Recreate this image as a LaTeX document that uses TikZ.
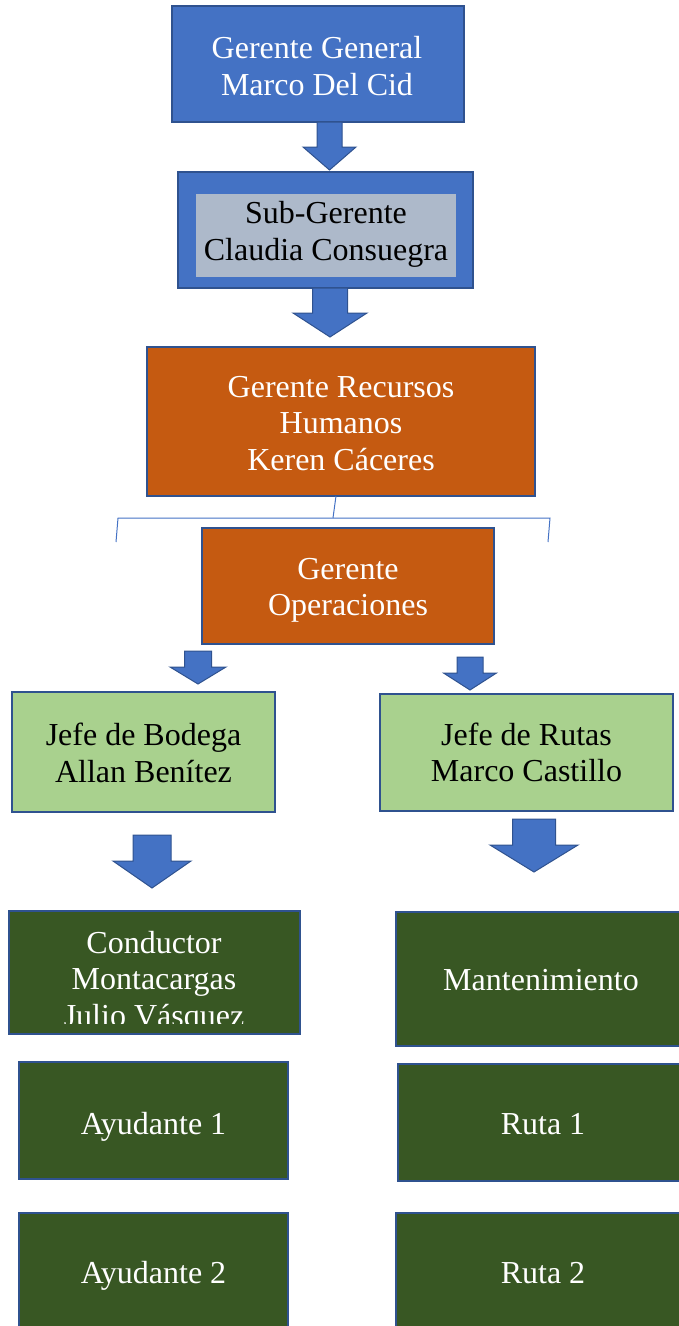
\documentclass[tikz,border=0pt]{standalone}
\usepackage{fontspec}
\setmainfont{Liberation Serif}
\usetikzlibrary{calc}
\definecolor{bfill}{HTML}{4472C4}
\definecolor{bord}{HTML}{2F528F}
\definecolor{greyb}{HTML}{ADB9CA}
\definecolor{orng}{HTML}{C55A11}
\definecolor{lgreen}{HTML}{A9D18E}
\definecolor{dgreen}{HTML}{385723}
\newcommand{\blockarr}[6]{%
  \draw[arrowst] ({#1-#3},#2) -- ({#1+#3},#2) -- ({#1+#3},#4) -- ({#1+#5},#4)
    -- (#1,#6) -- ({#1-#5},#4) -- ({#1-#3},#4) -- cycle;}
\begin{document}
\begin{tikzpicture}[x=1pt,y=-1pt,
  box/.style={draw=bord, line width=2pt, inner sep=0pt, outer sep=0pt},
  bluebox/.style={box, fill=bfill},
  orbox/.style={box, fill=orng},
  lgbox/.style={box, fill=lgreen},
  dgbox/.style={box, fill=dgreen},
  txt/.style={font=\fontsize{32}{36.5}\selectfont, align=center, inner sep=0pt},
  wtxt/.style={txt, text=white},
  ktxt/.style={txt, text=black},
  arrowst/.style={fill=bfill, draw=bord, line width=1pt, line join=miter},
  conn/.style={draw=bfill, line width=1pt}]
\useasboundingbox (0,0) rectangle (679,1326);
\clip (0,0) rectangle (679,1326);

% top
\node[bluebox, minimum width=292pt, minimum height=116pt] (gg) at (318,64) {};
\node[wtxt] (ggt) at ($(gg)+(-1,2)$) {Gerente General\\Marco Del Cid};
\node[box, fill=bfill, minimum width=295pt, minimum height=116pt] (sg) at (325.5,230) {};
\node[draw=none, fill=greyb, inner sep=0pt, minimum width=260pt, minimum height=83pt] (sgi) at (326,235.5) {};
\node[ktxt] (sgt) at ($(sgi)+(0,-1)$) {Sub-Gerente\\Claudia Consuegra};
\node[orbox, minimum width=388pt, minimum height=149pt] (rh) at (341,421.5) {};
\node[wtxt] (rht) at ($(rh)+(0,2)$) {Gerente Recursos\\Humanos\\Keren Cáceres};
\node[orbox, minimum width=292pt, minimum height=116pt] (op) at (348,586) {};
\node[wtxt] (opt) at ($(op)+(0,4.5)$) {Gerente\\Operaciones};

% connector lines
\coordinate (rhb) at (336,496);
\coordinate (hm) at (333,518);
\coordinate (hl) at (118,518);
\coordinate (hr) at (550,518);
\coordinate (dl) at (116,542);
\coordinate (dr) at (548,542);
\draw[conn] (rhb) -- (hm);
\draw[conn] (dl) -- (hl) -- (hr) -- (dr);

% middle
\node[lgbox, minimum width=263pt, minimum height=120pt] (jb) at (143.5,752) {};
\node[ktxt] (jbt) at ($(jb)+(0,1)$) {Jefe de Bodega\\Allan Benítez};
\node[lgbox, minimum width=293pt, minimum height=117pt] (jr) at (526.5,752.5) {};
\node[ktxt] (jrt) at ($(jr)+(0,0)$) {Jefe de Rutas\\Marco Castillo};

% bottom
\node[dgbox, minimum width=291pt, minimum height=123pt] (cm) at (154.5,972.5) {};
\begin{scope}
  \clip (cm.north west) rectangle ([yshift=11pt]cm.south east);
  \node[wtxt] (cmt) at (154,982) {Conductor\\Montacargas\\Julio Vásquez};
\end{scope}
\node[dgbox, minimum width=290pt, minimum height=134pt] (mt) at (541,979) {};
\node[wtxt] (mtt) at ($(mt)+(0,1)$) {Mantenimiento};
\node[dgbox, minimum width=269pt, minimum height=117pt] (a1) at (153.5,1120.5) {};
\node[wtxt] (a1t) at ($(a1)+(0,6)$) {Ayudante 1};
\node[dgbox, minimum width=290pt, minimum height=117pt] (r1) at (543,1122.5) {};
\node[wtxt] (r1t) at ($(r1)+(0,2)$) {Ruta 1};
\node[dgbox, minimum width=269pt, minimum height=122pt] (a2) at (153.5,1274) {};
\node[wtxt] (a2t) at ($(a2)+(0,2)$) {Ayudante 2};
\node[dgbox, minimum width=294pt, minimum height=122pt] (r2) at (543,1274) {};
\node[wtxt] (r2t) at ($(r2)+(0,-1)$) {Ruta 2};

% block arrows
\blockarr{329.5}{122}{12.5}{147}{26.5}{170}
\blockarr{330}{288}{17.5}{313}{37}{337}
\blockarr{198}{651}{13.5}{667}{28}{684}
\blockarr{470}{657}{13}{673}{26.5}{690}
\blockarr{152}{835}{19}{861}{39}{888}
\blockarr{534}{819}{21.5}{845}{44}{872}
\end{tikzpicture}
\end{document}
